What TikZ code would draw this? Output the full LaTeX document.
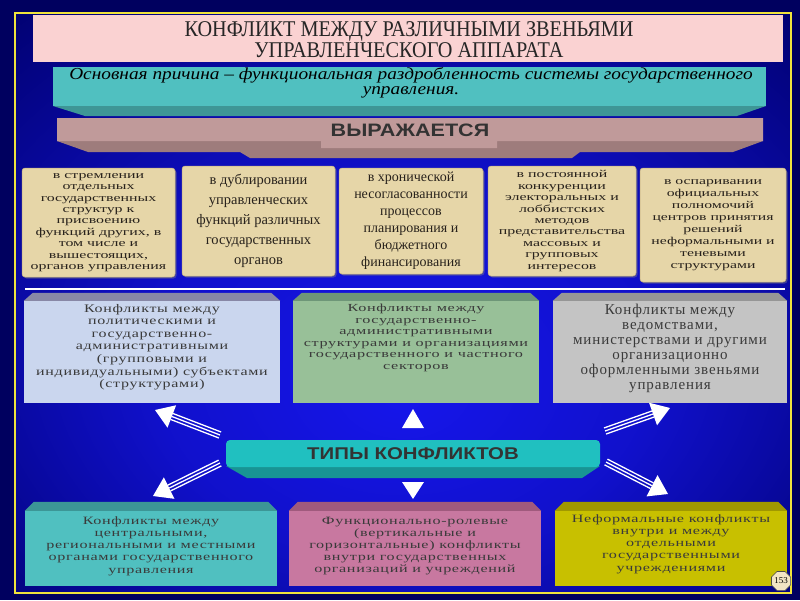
\documentclass[tikz,border=0pt]{standalone}
\usepackage{fontspec}
\setmainfont{Liberation Serif}
\newfontfamily\titlefont[FakeStretch=0.9]{Liberation Serif}
\newfontfamily\causefont[FakeStretch=1.15]{Liberation Serif}
\newfontfamily\bannerfont[FakeStretch=1.2]{Liberation Sans}
\newfontfamily\cardwide[FakeStretch=1.5]{Liberation Serif}
\newfontfamily\boxfont[LetterSpace=6]{Liberation Serif}
\usetikzlibrary{positioning,calc,shadows,shapes.geometric}

\definecolor{navyout}{RGB}{0,0,95}
\definecolor{bgin}{RGB}{22,22,235}
\definecolor{bgout}{RGB}{0,0,110}
\definecolor{framey}{RGB}{240,228,60}
\definecolor{titlepink}{RGB}{250,210,210}
\definecolor{causeteal}{RGB}{80,192,192}
\definecolor{causedark}{RGB}{62,150,150}
\definecolor{mauve}{RGB}{192,154,154}
\definecolor{mauvedark}{RGB}{158,124,124}
\definecolor{parch}{RGB}{230,214,168}
\definecolor{parchedge}{RGB}{196,176,128}
\definecolor{cardink}{RGB}{40,34,28}
\definecolor{boxink}{RGB}{58,58,58}
\definecolor{mblue}{RGB}{202,214,238}
\definecolor{mbluetop}{RGB}{136,136,166}
\definecolor{mgreen}{RGB}{152,192,152}
\definecolor{mgreentop}{RGB}{110,150,120}
\definecolor{mgray}{RGB}{196,196,196}
\definecolor{mgraytop}{RGB}{150,150,150}
\definecolor{bteal}{RGB}{80,192,192}
\definecolor{btealtop}{RGB}{60,150,150}
\definecolor{bpink}{RGB}{200,120,160}
\definecolor{bpinktop}{RGB}{160,90,125}
\definecolor{byellow}{RGB}{200,192,0}
\definecolor{byellowtop}{RGB}{160,152,0}
\definecolor{cyanbar}{RGB}{32,192,192}
\definecolor{cyandark}{RGB}{24,148,148}
\definecolor{badgefill}{RGB}{242,228,196}

\pgfdeclareradialshading{slidebg}{\pgfpoint{0bp}{-8bp}}{color(0bp)=(bgin); color(16bp)=(bgin!75!bgout); color(38bp)=(bgout); color(50bp)=(bgout)}

\tikzset{
  card/.style={rectangle, rounded corners=3pt, fill=parch, draw=parchedge, line width=0.5pt,
    drop shadow={shadow xshift=1.5pt, shadow yshift=-1.5pt, opacity=0.45},
    inner sep=0pt, align=center, text=cardink},
  tightcard/.style={card, font=\cardwide\fontsize{10.6}{11.4}\selectfont},
  face/.style={rectangle, inner sep=0pt},
  boxtext/.style={align=center, inner sep=0pt, text=boxink, font=\boxfont\fontsize{15}{15}\selectfont},
  lowtext/.style={boxtext, font=\boxfont\fontsize{11.2}{12.2}\selectfont\addfontfeatures{FakeStretch=1.44}},
  banner/.style={inner sep=0pt, text=black!80, font=\bannerfont\bfseries\fontsize{18}{18}\selectfont},
  shaft/.style={white, line width=1.3pt}
}

\begin{document}
\begin{tikzpicture}[x=1pt,y=-1pt]
\useasboundingbox (0,0) rectangle (800,600);
% background and frame
\fill[navyout] (0,0) rectangle (800,600);
\shade[shading=slidebg] (15,13) rectangle (791,593);
\draw[framey, line width=2.5pt] (15,13) rectangle (791,593);

% title
\node[face, fill=titlepink, minimum width=750pt, minimum height=47pt] (title) at (408,38.5) {};
\node[align=center, inner sep=0pt, font=\titlefont\fontsize{22.5}{18.5}\selectfont, text=black!85] (titletxt) at (409,39.5)
  {КОНФЛИКТ МЕЖДУ РАЗЛИЧНЫМИ ЗВЕНЬЯМИ\\УПРАВЛЕНЧЕСКОГО АППАРАТА};

% main cause
\fill[causedark] (53,106) -- (85,116) -- (737,116) -- (766,106) -- cycle;
\node[face, fill=causeteal, minimum width=713pt, minimum height=39pt] (cause) at (409.5,86.5) {};
\node[align=center, inner sep=0pt, font=\causefont\itshape\fontsize{16.8}{15.5}\selectfont] (causetxt) at (411,83)
  {Основная причина – функциональная раздробленность системы государственного\\управления.};

% expresses
\fill[mauvedark] (57,141) -- (88,152) -- (240,152) -- (250,158) -- (572,158) -- (580,152) -- (733,152) -- (763,141) -- cycle;
\fill[mauve] (57,118) -- (763,118) -- (763,141) -- (497,141) -- (497,148) -- (321,148) -- (321,141) -- (57,141) -- cycle;
\node[banner] (expr) at (410,130) {ВЫРАЖАЕТСЯ};

% cards
\node[tightcard, minimum width=153pt, minimum height=109pt] (strive) at (98.5,222.5)
  {в стремлении\\отдельных\\государственных\\структур к\\присвоению\\функций других, в\\том числе и\\вышестоящих,\\органов управления};
\node[card, minimum width=153pt, minimum height=110pt, font=\fontsize{14.5}{20}\selectfont] (dup) at (258.5,221)
  {в дублировании\\управленческих\\функций различных\\государственных\\органов};
\node[card, minimum width=144pt, minimum height=106pt, font=\fontsize{14}{17}\selectfont] (chron) at (411,221)
  {в хронической\\несогласованности\\процессов\\планирования и\\бюджетного\\финансирования};
\node[tightcard, minimum width=148pt, minimum height=110pt] (compet) at (562,221)
  {в постоянной\\конкуренции\\электоральных и\\лоббистских\\методов\\представительства\\массовых и\\групповых\\интересов};
\node[tightcard, minimum width=146pt, minimum height=114pt, font=\cardwide\fontsize{10.5}{12}\selectfont] (contest) at (713,225)
  {в оспаривании\\официальных\\полномочий\\центров принятия\\решений\\неформальными и\\теневыми\\структурами};

\draw[white, line width=1.8pt] (25,289) -- (785,289);

% middle row
\node[face, fill=mblue, minimum width=256pt, minimum height=102pt] (polit) at (152,352) {};
\fill[mbluetop] (polit.north west) -- ++(9,-8) -- ($(polit.north east)+(-9,-8)$) -- (polit.north east) -- cycle;
\node[boxtext, below=3pt, font=\boxfont\fontsize{11.6}{12.6}\selectfont\addfontfeatures{FakeStretch=1.38}] at (polit.north)
  {Конфликты между\\политическими и\\государственно-\\административными\\(групповыми и\\индивидуальными) субъектами\\(структурами)};
\node[face, fill=mgreen, minimum width=246pt, minimum height=102pt] (admin) at (416,352) {};
\fill[mgreentop] (admin.north west) -- ++(9,-8) -- ($(admin.north east)+(-9,-8)$) -- (admin.north east) -- cycle;
\node[boxtext, below=3pt, font=\boxfont\fontsize{10.8}{11.6}\selectfont\addfontfeatures{FakeStretch=1.5}] at (admin.north)
  {Конфликты между\\государственно-\\административными\\структурами и организациями\\государственного и частного\\секторов};
\node[face, fill=mgray, minimum width=234pt, minimum height=102pt] (dept) at (670,352) {};
\fill[mgraytop] (dept.north west) -- ++(9,-8) -- ($(dept.north east)+(-9,-8)$) -- (dept.north east) -- cycle;
\node[boxtext, below=3pt] at (dept.north)
  {Конфликты между\\ведомствами,\\министерствами и другими\\организационно\\оформленными звеньями\\управления};

% types
\fill[cyandark] (226,466) -- (247,478) -- (582,478) -- (600,466) -- cycle;
\node[face, fill=cyanbar, rounded corners=4pt, minimum width=374pt, minimum height=27pt,
  banner, font=\bannerfont\bfseries\fontsize{17}{17}\selectfont] (types) at (413,453.5) {ТИПЫ КОНФЛИКТОВ};

% arrows
\coordinate (ulS) at (220,435); \coordinate (ulT) at (155,410);
\coordinate (urS) at (605,431); \coordinate (urT) at (670,408);
\coordinate (dlS) at (220,463); \coordinate (dlT) at (153,496);
\coordinate (drS) at (606,462); \coordinate (drT) at (668,494);
\foreach \s/\t in {ulS/ulT, urS/urT, dlS/dlT, drS/drT}{
  \coordinate (hb) at ($(\t)!18pt!(\s)$);
  \foreach \k in {-3.2pt,0pt,3.2pt}
    \draw[shaft] ($(\s)!\k!90:(\t)$) -- ($(hb)!\k!-90:(\s)$);
  \fill[white] (\t) -- ($(hb)!12pt!90:(\t)$) -- ($(hb)!12pt!-90:(\t)$) -- cycle;
}
\coordinate (upT) at (413,409);
\fill[white] (upT) -- ++(11,19) -- ++(-22,0) -- cycle;
\coordinate (dnT) at (413,499);
\fill[white] (dnT) -- ++(11,-17) -- ++(-22,0) -- cycle;

% bottom row
\node[face, fill=bteal, minimum width=252pt, minimum height=75pt] (centr) at (151,548.5) {};
\fill[btealtop] (centr.north west) -- ++(9,-9) -- ($(centr.north east)+(-9,-9)$) -- (centr.north east) -- cycle;
\node[lowtext] at (151,546)
  {Конфликты между\\центральными,\\региональными и местными\\органами государственного\\управления};
\node[face, fill=bpink, minimum width=252pt, minimum height=75pt] (func) at (415,548.5) {};
\fill[bpinktop] (func.north west) -- ++(9,-9) -- ($(func.north east)+(-9,-9)$) -- (func.north east) -- cycle;
\node[lowtext] at (415,546)
  {Функционально-ролевые\\(вертикальные и\\горизонтальные) конфликты\\внутри государственных\\организаций и учреждений};
\node[face, fill=byellow, minimum width=232pt, minimum height=75pt] (inform) at (671,548.5) {};
\fill[byellowtop] (inform.north west) -- ++(9,-9) -- ($(inform.north east)+(-9,-9)$) -- (inform.north east) -- cycle;
\node[lowtext] at (671,544)
  {Неформальные конфликты\\внутри и между\\отдельными\\государственными\\учреждениями};

% page number
\node[regular polygon, regular polygon sides=8, fill=badgefill, draw=black!70, line width=0.6pt,
  inner sep=0pt, minimum size=18pt, font=\fontsize{9}{9}\selectfont] (page) at (781,581) {153};
\end{tikzpicture}
\end{document}
